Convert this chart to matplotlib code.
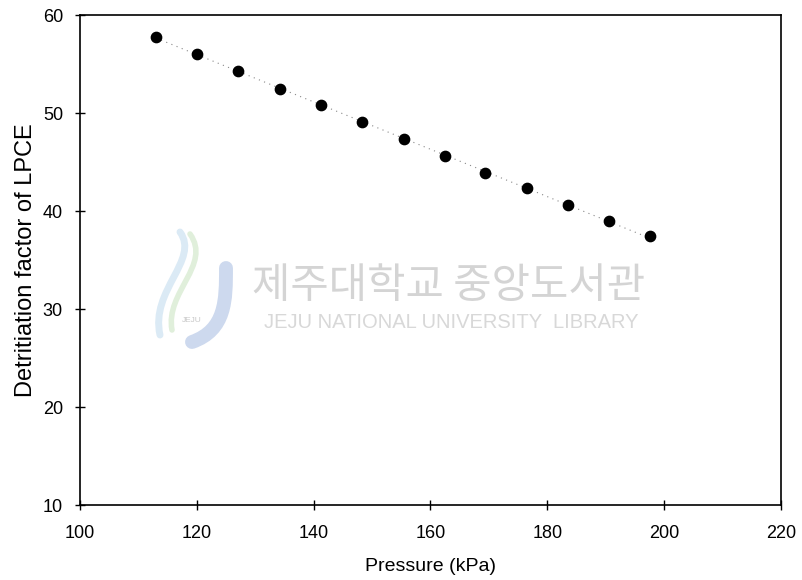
import matplotlib.pyplot as plt
import numpy as np
from matplotlib.path import Path
from matplotlib.patches import PathPatch

# Data
pressure = [113.0, 120.0, 127.0, 134.2, 141.3, 148.3, 155.4, 162.4, 169.4, 176.5, 183.5, 190.6, 197.6]
detritiation = [57.8, 56.0, 54.3, 52.5, 50.8, 49.1, 47.3, 45.6, 43.9, 42.3, 40.6, 39.0, 37.4]

xticks = [100, 120, 140, 160, 180, 200, 220]
yticks = [10, 20, 30, 40, 50, 60]

plt.rcParams['font.family'] = ['Liberation Sans', 'DejaVu Sans']

W, H = 803, 580
fig = plt.figure(figsize=(W / 100, H / 100), dpi=100)
ax = fig.add_axes([0.0996, 0.1293, 0.873, 0.8448])

# Linear trend line (dotted)
coef = np.polyfit(pressure, detritiation, 1)
xs = np.array([pressure[0], pressure[-1]])
ax.plot(xs, np.polyval(coef, xs), linestyle=(0, (1, 4)), color='#888888', lw=0.8, zorder=1)

ax.scatter(pressure, detritiation, s=55, color='black', zorder=3)


# Watermark (library logo + text), drawn in pixel coords
def px(x, y):
    return (x / W, 1 - y / H)


def curve(pts, color, lw):
    verts = [px(*p) for p in pts]
    codes = [Path.MOVETO] + [Path.CURVE4] * (len(verts) - 1)
    fig.patches.append(PathPatch(Path(verts, codes), transform=fig.transFigure,
                                 fill=False, edgecolor=color, lw=lw, capstyle='round', zorder=0))


curve([(180, 232), (200, 260), (150, 290), (160, 335)], '#dbeaf5', 5)
curve([(190, 234), (212, 265), (165, 292), (172, 330)], '#e0efdb', 4)
curve([(226, 268), (226, 300), (226, 330), (192, 342)], '#cdd9ee', 10)
fig.text(*px(192, 320), 'JEJU', fontsize=6, color='#c8c8c8', ha='center', va='center')

fig.text(*px(449, 287), '제주대학교 중앙도서관', family=['Noto Sans CJK KR', 'DejaVu Sans'],
         fontsize=30, color='#d4d4d4', ha='center', va='center', zorder=0)
fig.text(*px(451, 323), 'JEJU NATIONAL UNIVERSITY  LIBRARY', fontsize=14.5,
         color='#d8d8d8', ha='center', va='center', zorder=0)

ax.set_xlim(100, 220)
ax.set_ylim(10, 60)
ax.set_xticks(xticks)
ax.set_yticks(yticks)
ax.tick_params(direction='inout', length=6.5, width=1, labelsize=13)
ax.tick_params(axis='x', pad=11)
ax.tick_params(axis='y', pad=9)
for s in ax.spines.values():
    s.set_linewidth(1.2)

ax.set_xlabel('Pressure (kPa)', fontsize=14, labelpad=12)
ax.set_ylabel('Detritiation factor of LPCE', fontsize=17, labelpad=4)

fig.savefig('out.png', dpi=100)
